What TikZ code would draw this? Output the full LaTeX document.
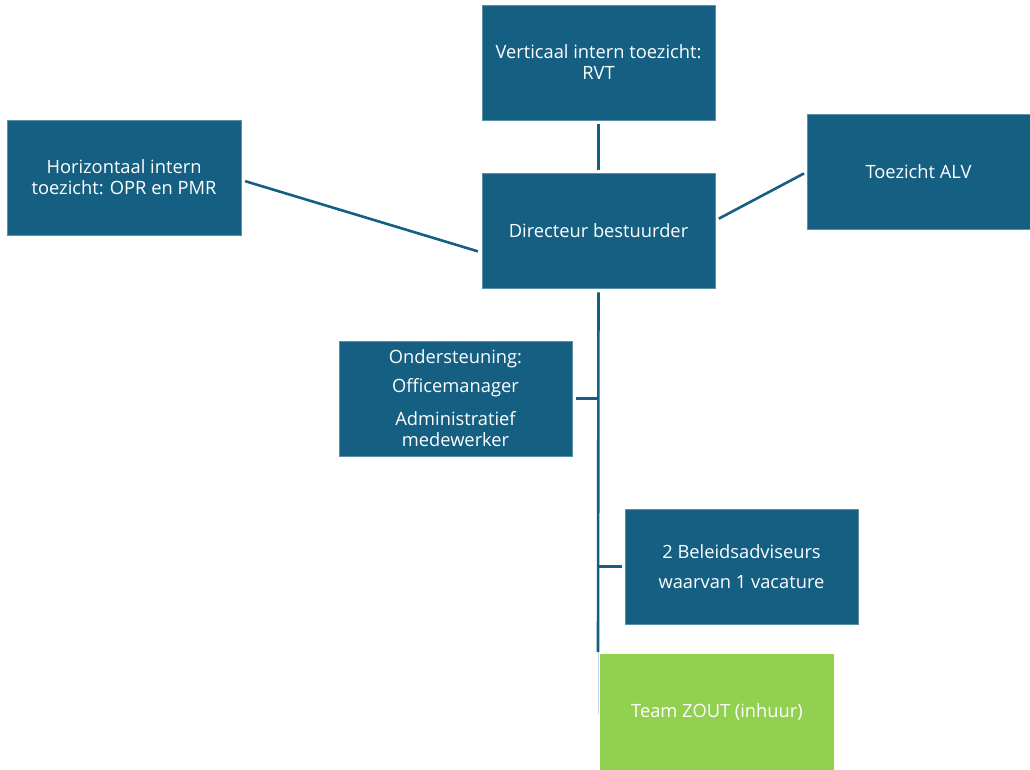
\documentclass[tikz,border=0pt]{standalone}
\usepackage{fontspec}
\setmainfont{Open Sans}
\definecolor{boxblue}{HTML}{156082}
\definecolor{boxgreen}{HTML}{92D050}
\begin{document}
\begin{tikzpicture}[x=1pt,y=-1pt,
  orgbox/.style={rectangle, fill=boxblue, draw=boxblue!70!white, line width=0.6pt, text=white,
    minimum width=233pt, minimum height=115pt, inner sep=0pt, align=center,
    font=\fontsize{18.3}{21}\selectfont},
  greenbox/.style={orgbox, fill=boxgreen, draw=boxgreen},
  conn/.style={draw=boxblue, line width=2.6pt}]
\useasboundingbox (0,0) rectangle (1030,769);
\node[orgbox] (rvt) at (598.5,62.5) {Verticaal intern toezicht:\\RVT};
\node[orgbox] (dir) at (598.5,230.5) {Directeur bestuurder};
\node[orgbox, minimum width=234pt] (hor) at (124,177.5) {Horizontaal intern\\toezicht: OPR en PMR};
\node[orgbox, minimum width=223pt] (alv) at (918.5,171.5) {Toezicht ALV};
\node[orgbox] (ond) at (455.5,398.5) {Ondersteuning:\\[8pt]Officemanager\\[12pt]Administratief\\medewerker};
\node[orgbox] (bel) at (741.5,566.5) {2 Beleidsadviseurs\\[9pt]waarvan 1 vacature};
\node[greenbox] (team) at (717,712) {Team ZOUT (inhuur)};
\coordinate (trunkend) at (598,652);
\draw[conn, shorten <=4pt, shorten >=3pt] (rvt.south) -- (dir.north);
\draw[conn, shorten <=4pt, shorten >=4pt] ([yshift=-2.5pt]hor.east) -- ([yshift=-22pt]dir.west);
\draw[conn, shorten <=4pt, shorten >=3pt] ([yshift=10pt]dir.east) -- ([yshift=-0.5pt]alv.west);
\draw[conn, shorten <=4pt] (dir.south) -- (trunkend);
\draw[conn, shorten <=4pt] (ond.east) -- (ond.east -| trunkend);
\draw[conn, shorten >=3pt] (bel.west -| trunkend) -- (bel.west);
\draw[draw=boxblue!25, line width=0.6pt] (trunkend) -- ([yshift=-2pt]team.west -| trunkend);
\end{tikzpicture}
\end{document}
